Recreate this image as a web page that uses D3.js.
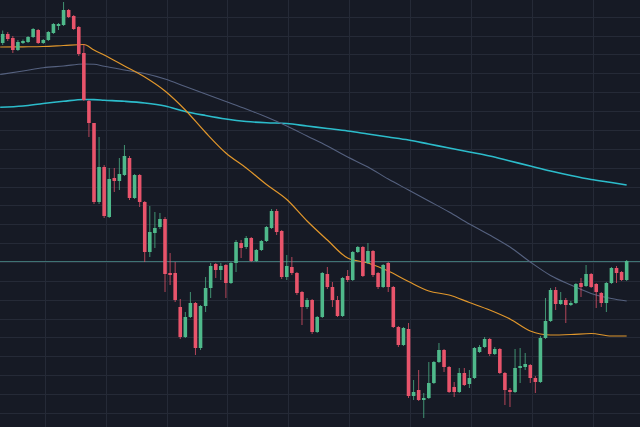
<!DOCTYPE html>
<html>
<head>
<meta charset="utf-8">
<script src="https://cdn.jsdelivr.net/npm/d3@7"></script>
<style>
  html, body { margin: 0; padding: 0; background: #161a25; overflow: hidden; }
  svg { display: block; }
</style>
</head>
<body>
<svg id="chart" width="640" height="427"></svg>
<script>
// ---- DATA (prices) ----
const opens = [95.7,96.6,96.2,95.0,95.7,95.8,96.3,97.0,95.7,96.0,96.7,97.4,97.5,99.0,98.4,97.3,94.7,89.9,87.7,79.8,
  83.3,78.3,82.2,81.9,82.5,84.2,80.2,82.5,79.8,74.8,76.7,77.3,78.1,72.7,72.7,69.3,66.3,68.3,69.7,65.2,
  69.4,71.2,73.6,73.0,73.5,71.7,73.7,75.7,75.3,76.2,73.9,75.0,75.9,77.2,78.9,76.9,72.3,73.3,72.7,70.8,
  69.3,70.0,66.8,68.3,72.6,71.3,70.0,68.4,72.4,72.0,74.8,75.3,73.7,74.9,72.7,71.3,73.7,71.3,67.3,65.5,
  67.1,60.4,61.0,60.0,60.2,61.7,63.8,65.0,63.3,61.3,60.8,62.7,61.6,62.2,64.8,65.3,66.1,64.6,65.1,62.7,
  61.0,60.8,63.2,63.3,63.5,62.2,61.8,66.2,67.9,71.0,69.6,70.0,69.5,69.7,71.7,71.4,72.6,71.6,70.7,69.7,
  71.7,73.2,72.8,72.0];
const closes = [96.6,96.1,95.0,95.8,95.9,96.3,97.1,95.7,96.0,96.8,97.6,97.6,99.0,98.3,97.1,94.6,90.0,87.7,79.8,83.3,
  78.4,82.1,81.9,82.6,84.4,80.2,82.5,79.8,74.8,76.8,77.2,78.1,72.6,72.5,70.0,66.3,68.3,69.7,65.2,69.4,
  71.2,73.4,73.0,73.4,71.7,73.7,75.8,75.2,76.2,73.9,75.0,75.9,77.3,78.9,76.8,72.3,73.4,72.7,70.7,69.3,
  70.0,66.8,68.3,72.7,71.3,70.0,68.4,72.2,72.0,74.8,75.3,72.4,74.9,72.5,71.3,73.5,71.3,67.3,65.5,67.2,
  60.4,60.8,60.0,60.2,61.7,63.8,65.0,63.3,60.8,60.8,62.7,61.5,62.2,65.2,65.3,66.1,64.6,65.1,62.7,61.0,
  60.8,63.2,63.4,63.6,62.2,61.8,66.2,67.9,71.0,69.6,70.0,69.5,69.7,71.6,71.3,72.6,71.3,70.8,69.7,71.7,
  73.2,72.7,72.0,73.9];
const highs = [96.95,96.8,96.4,96.0,96.05,96.4,97.2,97.1,96.1,96.9,97.7,97.7,99.8,99.1,98.5,97.4,95.6,90.0,87.7,86.3,
  83.5,83.2,83.2,84.2,85.5,84.4,82.6,82.6,79.9,79.4,78.8,78.7,78.3,74.7,73.8,70.1,68.8,70.8,69.8,69.5,
  72.3,73.7,73.7,73.7,73.6,73.8,76.0,76.0,76.4,76.3,75.1,76.0,77.4,79.1,79.1,77.0,74.5,74.3,72.8,70.9,
  70.2,70.1,68.4,72.8,73.3,71.8,70.4,72.3,73.0,74.9,75.4,75.4,75.7,75.0,72.8,73.6,73.8,71.4,67.4,67.3,
  67.7,62.0,63.0,60.7,63.8,63.9,65.7,65.1,63.4,61.8,63.2,63.2,63.0,65.3,65.5,66.3,66.2,65.3,65.2,62.8,
  61.2,65.1,65.2,64.7,63.6,62.4,66.4,70.2,71.2,71.3,70.8,70.2,69.9,71.7,72.2,73.5,72.7,71.7,70.8,71.8,
  73.3,73.4,72.9,74.0];
const lows = [95.5,95.9,94.7,94.9,95.6,95.7,96.2,95.6,95.6,95.9,96.6,97.0,97.4,98.2,97.0,94.4,89.9,86.3,79.6,79.6,
  78.2,78.2,80.8,81.0,82.4,80.0,80.1,79.3,73.8,74.3,75.2,77.1,70.8,71.5,69.8,66.1,66.2,68.2,64.5,65.0,
  68.8,70.2,72.2,72.0,70.2,71.6,72.8,74.2,75.1,73.8,73.8,74.9,75.8,77.1,76.5,72.1,72.0,72.5,70.5,67.5,
  69.1,66.6,66.7,68.2,71.1,69.3,68.3,68.3,71.8,71.9,74.7,72.3,73.6,72.3,71.1,71.2,70.8,67.2,65.3,65.4,
  60.2,60.0,59.9,58.2,60.1,61.6,63.7,62.8,60.7,60.3,60.7,61.4,61.2,62.1,64.7,65.2,64.4,64.5,62.6,59.5,
  59.3,60.7,61.7,63.0,61.7,60.7,61.7,66.1,67.8,69.0,69.5,67.7,69.4,69.6,70.3,71.3,71.2,69.2,69.3,68.8,
  71.6,71.7,71.9,71.9];

// moving averages, read at these candle positions
const maIdx = [-0.5,4,8,12,16,18,20,24,28,32,36,40,44,48,52,56,60,64,68,72,76,80,84,88,92,96,100,104,108,112,116,120,123];
const maFast = [95.3,95.32,95.35,95.45,95.55,95.0,94.5,93.4,92.3,90.9,89.0,86.75,84.7,83.2,81.55,80.05,77.9,76.0,74.2,73.7,
  72.9,71.85,70.9,70.5,69.75,69.0,68.1,66.9,66.5,66.55,66.65,66.4,66.4];
const maMid = [92.55,92.9,93.23,93.4,93.6,93.58,93.37,93.0,92.65,92.1,91.35,90.6,89.85,89.1,88.3,87.4,86.4,85.4,84.3,83.3,
  82.1,81.0,79.9,78.8,77.6,76.5,75.3,73.8,72.45,71.5,70.65,70.15,69.9];
const maSlow = [89.27,89.4,89.65,89.87,90.05,90.04,89.98,89.87,89.7,89.4,88.85,88.45,88.1,87.85,87.72,87.65,87.4,87.15,86.9,86.6,
  86.3,86.0,85.6,85.2,84.8,84.4,83.9,83.4,82.9,82.45,82.05,81.75,81.5];

// grid positions (price levels and candle positions)
const hGrid = [98.33,96.44,94.56,92.67,90.78,88.90,87.01,85.12,83.23,81.35,79.46,77.57,75.68,73.80,71.91,70.02,68.14,66.25,64.36,62.47,60.59,58.70];
const vGrid = [8.3,20.3,32.3,44.3,56.3,68.3,80.3,92.3,104.3,116.3];

// ---- CHART ----
const W = 640, H = 427;
const svg = d3.select('#chart');
svg.append('rect').attr('width', W).attr('height', H).attr('fill', '#161a25');

const x = d3.scaleLinear().domain([-0.53, 125.63]).range([0, W]);
const y = d3.scaleLinear().domain([57.3, 100]).range([H, 0]);

const grid = svg.append('g').attr('stroke', '#252a37').attr('stroke-width', 1);
grid.selectAll('line.h').data(hGrid).join('line').attr('class', 'h')
  .attr('x1', 0).attr('x2', W)
  .attr('y1', d => Math.round(y(d)) + 0.5).attr('y2', d => Math.round(y(d)) + 0.5);
grid.selectAll('line.v').data(vGrid).join('line').attr('class', 'v')
  .attr('y1', 0).attr('y2', H)
  .attr('x1', d => Math.round(x(d)) + 0.5).attr('x2', d => Math.round(x(d)) + 0.5);

// last price line
const last = closes[closes.length - 1];
svg.append('line')
  .attr('x1', 0).attr('x2', W)
  .attr('y1', Math.round(y(last)) + 0.5).attr('y2', Math.round(y(last)) + 0.5)
  .attr('stroke', '#3f7374').attr('stroke-width', 1);

// moving averages
const maLine = (vals) => d3.line()
  .x((d, i) => x(maIdx[i]))
  .y(d => y(d))
  .curve(d3.curveMonotoneX)(vals);

svg.append('path').attr('d', maLine(maSlow)).attr('fill', 'none')
  .attr('stroke', '#2cbccb').attr('stroke-width', 1.6);
svg.append('path').attr('d', maLine(maMid)).attr('fill', 'none')
  .attr('stroke', '#55617f').attr('stroke-width', 1.1);
svg.append('path').attr('d', maLine(maFast)).attr('fill', 'none')
  .attr('stroke', '#e1972c').attr('stroke-width', 1.2);

// candles
const candles = opens.map((o, i) => ({ i, o, c: closes[i], h: highs[i], l: lows[i] }));
const UP = '#4fb98b', DOWN = '#e8546b';
const bw = 3.6;
const cg = svg.append('g');
cg.selectAll('line.wick').data(candles).join('line').attr('class', 'wick')
  .attr('x1', d => x(d.i)).attr('x2', d => x(d.i))
  .attr('y1', d => y(d.h)).attr('y2', d => y(d.l))
  .attr('stroke', d => d.c >= d.o ? UP : DOWN).attr('stroke-width', 1).attr('opacity', 0.75);
cg.selectAll('rect.body').data(candles).join('rect').attr('class', 'body')
  .attr('x', d => x(d.i) - bw / 2)
  .attr('width', bw)
  .attr('y', d => y(Math.max(d.o, d.c)))
  .attr('height', d => Math.max(1, Math.abs(y(d.o) - y(d.c))))
  .attr('fill', d => d.c >= d.o ? UP : DOWN);
</script>
</body>
</html>
